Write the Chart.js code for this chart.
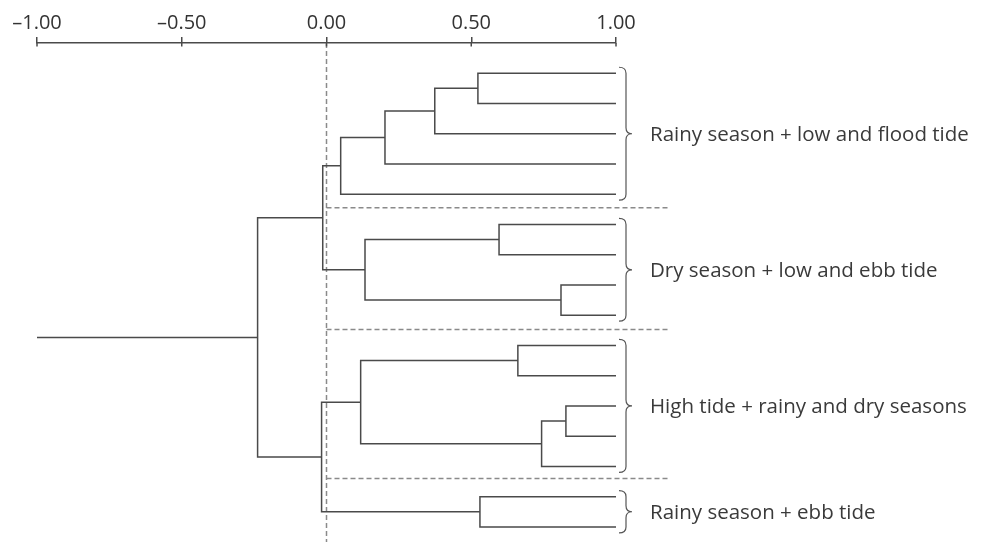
<!DOCTYPE html>
<html>
<head>
<meta charset="utf-8">
<script src="https://cdn.jsdelivr.net/npm/chart.js@4"></script>
<style>
  body { margin: 0; background: #fff; }
  canvas { display: block; }
</style>
</head>
<body>
<canvas id="chart" width="988" height="542"></canvas>
<script>
// leaves sit at similarity 1.00, rows 0..15 from top
const leafCount = 16;
const leafLevel = 1.0;

// merges, scipy-style: node 16 + k joins mergeA[k] and mergeB[k] at mergeLevel[k]
const mergeA = [0, 16, 17, 18, 5, 7, 20, 19, 9, 11, 25, 24, 14, 27, 23];
const mergeB = [1, 2, 3, 4, 6, 8, 21, 22, 10, 12, 13, 26, 15, 28, 29];
const mergeLevel = [0.523, 0.374, 0.202, 0.049, 0.596, 0.810, 0.133, -0.013,
                    0.661, 0.827, 0.743, 0.118, 0.530, -0.017, -0.238];
const rootStemTo = -1.0;

// groups and their labels
const groupFirst = [0, 5, 9, 14];
const groupLast = [4, 8, 13, 15];
const groupLabels = [
  "Rainy season + low and flood tide",
  "Dry season + low and ebb tide",
  "High tide + rainy and dry seasons",
  "Rainy season + ebb tide"
];
const separatorRows = [4.45, 8.47, 13.4];

const xTicks = [-1, -0.5, 0, 0.5, 1];

// --- build node positions
const nodeX = [];
const nodeY = [];
for (let i = 0; i < leafCount; i++) {
  nodeX.push(leafLevel);
  nodeY.push(i);
}
const treeSets = [];
mergeA.forEach((a, k) => {
  const b = mergeB[k];
  const h = mergeLevel[k];
  treeSets.push([
    { x: nodeX[a], y: nodeY[a] },
    { x: h, y: nodeY[a] },
    { x: h, y: nodeY[b] },
    { x: nodeX[b], y: nodeY[b] }
  ]);
  nodeX.push(h);
  nodeY.push((nodeY[a] + nodeY[b]) / 2);
});
const rootIdx = nodeX.length - 1;
treeSets.push([
  { x: nodeX[rootIdx], y: nodeY[rootIdx] },
  { x: rootStemTo, y: nodeY[rootIdx] }
]);

const lineColor = "#4a4a4a";
const dashColor = "#8a8a8a";

const datasets = treeSets.map(pts => ({
  data: pts,
  showLine: true,
  borderColor: lineColor,
  borderWidth: 1.5,
  pointRadius: 0,
  clip: false
}));

// dashed guides
datasets.push({
  data: [{ x: 0, y: -1 }, { x: 0, y: 15.5 }],
  showLine: true, borderColor: dashColor, borderWidth: 1.5,
  borderDash: [5, 3], pointRadius: 0, clip: false
});
separatorRows.forEach(r => {
  datasets.push({
    data: [{ x: 0, y: r }, { x: 1.18, y: r }],
    showLine: true, borderColor: dashColor, borderWidth: 1.5,
    borderDash: [5, 3], pointRadius: 0, clip: false
  });
});

// braces + group labels, ticks poking below the axis line
const bracePlugin = {
  id: "braces",
  afterDraw(chart) {
    const ctx = chart.ctx;
    const xs = chart.scales.x;
    const ys = chart.scales.y;
    const right = xs.getPixelForValue(1);

    ctx.save();
    ctx.strokeStyle = lineColor;
    ctx.lineWidth = 1.5;
    xTicks.forEach(v => {
      const px = xs.getPixelForValue(v);
      ctx.beginPath();
      ctx.moveTo(px, chart.chartArea.top);
      ctx.lineTo(px, chart.chartArea.top + 3.5);
      ctx.stroke();
    });

    ctx.strokeStyle = "#555";
    ctx.lineWidth = 1.2;
    groupFirst.forEach((g, i) => {
      const top = ys.getPixelForValue(g) - 6;
      const bot = ys.getPixelForValue(groupLast[i]) + 6;
      const mid = (top + bot) / 2;
      const x0 = right + 3, x1 = x0 + 7, x2 = x1 + 6;
      ctx.beginPath();
      ctx.moveTo(x0, top);
      ctx.quadraticCurveTo(x1, top, x1, top + 6);
      ctx.lineTo(x1, mid - 6);
      ctx.quadraticCurveTo(x1, mid, x2, mid);
      ctx.quadraticCurveTo(x1, mid, x1, mid + 6);
      ctx.lineTo(x1, bot - 6);
      ctx.quadraticCurveTo(x1, bot, x0, bot);
      ctx.stroke();

      ctx.fillStyle = "#3a3a3a";
      ctx.font = "20.5px 'Open Sans'";
      ctx.textBaseline = "middle";
      ctx.fillText(groupLabels[i], right + 34, mid + 1);
    });
    ctx.restore();
  }
};

new Chart(document.getElementById("chart"), {
  type: "scatter",
  data: { datasets },
  plugins: [bracePlugin],
  options: {
    responsive: false,
    animation: false,
    layout: { padding: { left: 37, right: 372, top: 9, bottom: 0 } },
    plugins: { legend: { display: false }, tooltip: { enabled: false } },
    scales: {
      x: {
        type: "linear",
        position: "top",
        min: -1,
        max: 1,
        afterBuildTicks: s => { s.ticks = xTicks.map(v => ({ value: v })); },
        ticks: {
          padding: 2,
          color: "#333",
          font: { family: "'Open Sans'", size: 20 },
          maxRotation: 0,
          callback: v => (v < 0 ? "\u2013" : "") + Math.abs(v).toFixed(2)
        },
        grid: { drawOnChartArea: false, tickLength: 6, color: lineColor, lineWidth: 1.5 },
        border: { display: true, color: lineColor, width: 1.5 }
      },
      y: {
        type: "linear",
        min: -1,
        max: 15.5,
        reverse: true,
        display: false
      }
    }
  }
});
</script>
</body>
</html>
